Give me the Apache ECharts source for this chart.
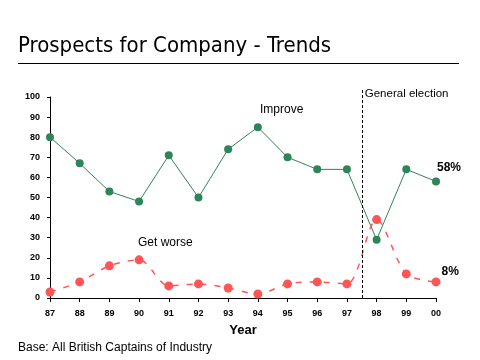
<!DOCTYPE html>
<html><head><meta charset="utf-8">
<script src="https://cdn.jsdelivr.net/npm/echarts@6/dist/echarts.min.js"></script>
<style>html,body{margin:0;padding:0;background:#fff}#c{width:480px;height:360px}</style>
</head><body><div id="c"></div>
<script>
const years = ['87','88','89','90','91','92','93','94','95','96','97','98','99','00'];
const improve = [80,67,53,48,71,50,74,85,70,64,64,29,64,58];
const getWorse = [3,8,16,19,6,7,5,2,7,8,7,39,12,8];
const yTicks = [0,10,20,30,40,50,60,70,80,90,100];
const electionAt = 10.5;

const chart = echarts.init(document.getElementById('c'), null, {renderer:'canvas'});
const lastLabel = (arr, off) => arr.map((v,i)=> i===arr.length-1 ? {value:v, label:{show:true, formatter:v+'%', position:'right', offset:off, color:'#000', fontFamily:'Arial', fontSize:12, fontWeight:'bold'}} : v);
chart.setOption({
  animation:false,
  backgroundColor:'#fff',
  grid:{left:50, right:44, top:97, bottom:62},
  xAxis:[{type:'category', data:years, boundaryGap:false,
    name:'Year', nameLocation:'middle', nameGap:26,
    nameTextStyle:{fontFamily:'Arial', fontWeight:'bold', fontSize:13, color:'#000'},
    axisLine:{lineStyle:{color:'#000'}},
    axisTick:{show:true, length:4, lineStyle:{color:'#000'}},
    axisLabel:{fontFamily:'Arial', fontWeight:'bold', fontSize:9, color:'#000', margin:11},
    splitLine:{show:false}},
    {type:'value', min:0, max:years.length-1, show:false}],
  yAxis:{type:'value', min:yTicks[0], max:yTicks[yTicks.length-1], interval:10,
    axisLine:{show:true, lineStyle:{color:'#000'}},
    axisTick:{show:true, length:3, lineStyle:{color:'#000'}},
    axisLabel:{fontFamily:'Arial', fontWeight:'bold', fontSize:9, color:'#000', margin:10},
    splitLine:{show:false}},
  series:[
    {name:'Improve', type:'line', data:lastLabel(improve,[-8,-14]), symbol:'circle', symbolSize:8,
     itemStyle:{color:'#2e8559'}, lineStyle:{color:'#2e8559', width:1}},
    {name:'Get worse', type:'line', data:lastLabel(getWorse,[-4,-10]), symbol:'circle', symbolSize:9, smooth:0.3,
     itemStyle:{color:'#ff5555'}, lineStyle:{color:'#ff5555', width:1.5, type:[6,8]}},
    {name:'election', type:'line', xAxisIndex:1, data:[], silent:true,
     markLine:{symbol:'none', silent:true, label:{show:false},
       lineStyle:{color:'#000', type:[3,2], width:1},
       data:[[{xAxis:electionAt, yAxis:0},{xAxis:electionAt, y:88}]]}}
  ]
});
const px = chart.convertToPixel({xAxisIndex:1}, electionAt);
chart.setOption({graphic:[
    {type:'text', left:18, top:35, style:{text:'Prospects for Company - Trends', font:'22px "DejaVu Sans Condensed", "DejaVu Sans"', fill:'#000'}},
    {type:'line', shape:{x1:18,y1:63.5,x2:459,y2:63.5}, style:{stroke:'#000', lineWidth:1}},
    {type:'text', left:18, top:342, style:{text:'Base: All British Captains of Industry', font:'12px "Liberation Sans", Arial', fill:'#000'}},
    {type:'text', left:260, top:104, style:{text:'Improve', font:'12px "Liberation Sans", Arial', fill:'#000'}},
    {type:'text', left:138, top:237, style:{text:'Get worse', font:'12px "Liberation Sans", Arial', fill:'#000'}},
    {type:'text', left:px+3, top:88, style:{text:'General election', font:'11.5px "Liberation Sans Narrow", "Liberation Sans", Arial', fill:'#000'}}
]});
</script></body></html>
